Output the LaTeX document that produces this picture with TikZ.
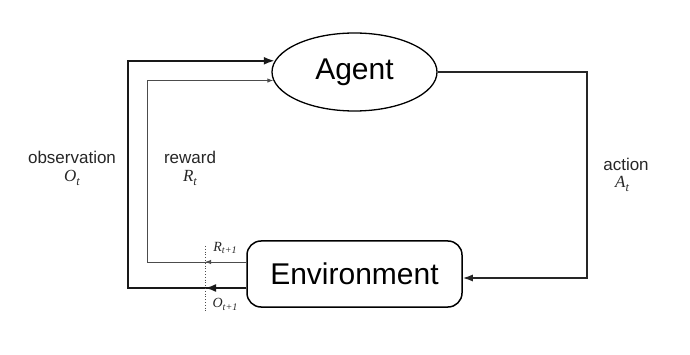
\documentclass[tikz,border=0pt]{standalone}
\usepackage{fontspec}
\setmainfont{Liberation Sans}
\newfontfamily\tms{Liberation Serif}
\usetikzlibrary{shapes.geometric,arrows.meta}
\newcommand{\lowsub}[1]{\raisebox{-0.45ex}{\scalebox{0.72}{#1}}}
\tikzset{
  lbl/.style={font=\fontsize{17}{19}\selectfont, text=black!85, inner sep=0pt, align=center},
  mlbl/.style={font=\fontsize{17}{19}\selectfont\tms\itshape, text=black!85, inner sep=0pt},
  slbl/.style={font=\fontsize{14}{16}\selectfont\tms\itshape, text=black!85, inner sep=0pt},
  obsline/.style={line width=2pt, black!90},
  rewline/.style={line width=0.9pt, black!70},
  actline/.style={line width=1.5pt, black!85},
  obstip/.style={-{Latex[length=11pt,width=8pt]}},
  rewtip/.style={-{Latex[length=6pt,width=4.5pt]}},
  acttip/.style={-{Latex[length=10pt,width=7pt]}},
}
\begin{document}
\begin{tikzpicture}[x=1pt,y=-1pt]
\useasboundingbox (0,0) rectangle (690,355);
\node[ellipse, draw, line width=1.3pt, minimum width=165pt, minimum height=78pt, inner sep=0pt,
      font=\fontsize{30}{32}\selectfont] (agent) at (354.5,72) {Agent};
\node[rectangle, rounded corners=14pt, draw, line width=1.5pt, minimum width=215pt, minimum height=66pt,
      inner sep=0pt, font=\fontsize{30}{32}\selectfont] (env) at (354.5,274) {Environment};

% coordinates for bends
\coordinate (oc) at (128,288);
\coordinate (rc) at (147,262);
\coordinate (ac) at (587,72);
\coordinate (odot) at (205,288);
\coordinate (rdot) at (205,262);
\coordinate (d1) at (205,246);
\coordinate (d2) at (205,312);

% observation
\draw[obsline, obstip] ([yshift=-14pt]env.west) -- (oc) |- (agent.172);
\draw[obsline, obstip] ([yshift=-14pt]env.west) -- (odot);
% reward
\draw[rewline, rewtip] ([yshift=12pt]env.west) -- (rc) |- (agent.186);
\draw[rewline, rewtip] ([yshift=12pt]env.west) -- (rdot);
% action
\draw[actline, acttip] (agent.east) -- (ac) |- ([yshift=-4pt]env.east);
% dotted separator
\draw[dotted, line width=0.8pt, black!70] (d1) -- (d2);

% labels
\node[lbl] (lobs) at (72,157) {observation};
\node[mlbl] (lot) at (72,178) {O\lowsub{t}};
\node[lbl] (lrew) at (190,157) {reward};
\node[mlbl] (lrt) at (190,178) {R\lowsub{t}};
\node[lbl] (lact) at (626,164) {action};
\node[mlbl] (lat) at (622,184) {A\lowsub{t}};
\node[slbl] (lr1) at (225,248) {R\lowsub{t+1}};
\node[slbl] (lo1) at (225,304) {O\lowsub{t+1}};
\end{tikzpicture}
\end{document}
